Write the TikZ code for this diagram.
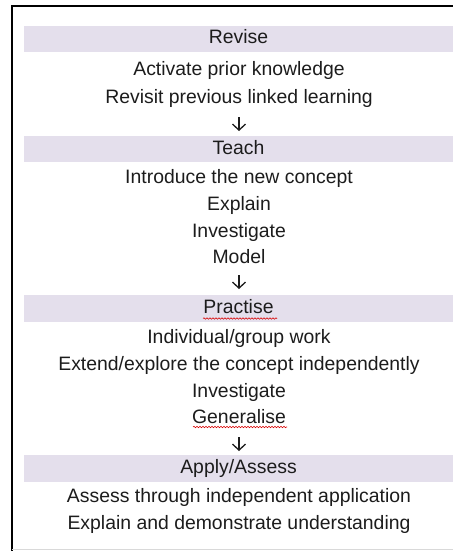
\documentclass[tikz,border=0pt]{standalone}
\usepackage{fontspec}
\setmainfont{Liberation Sans}
\usetikzlibrary{arrows.meta}
\usetikzlibrary{decorations.pathmorphing}
\definecolor{bandfill}{HTML}{E4DFEC}
\definecolor{ink}{HTML}{1C1C1C}

\begin{document}
\begin{tikzpicture}[x=1pt,y=-1pt,
    line/.style={font=\fontsize{19.4}{22}\selectfont,text=ink,inner sep=0pt,text height=14pt,text depth=4pt},
    band/.style={line,fill=bandfill,minimum width=429pt,minimum height=26.5pt},
    down/.style={ink,line width=1.3pt,-{Straight Barb[length=6pt,width=13pt]}},
    squig/.style={red!85!black,line width=0.6pt,decorate,decoration={snake,amplitude=0.7pt,segment length=3pt}}]
    \newcommand{\cx}{239}
    \useasboundingbox (0,0) rectangle (453,551);
    % frame (open on the right)
    \draw[line width=2pt,black] (12,551) -- (12,6.5) -- (453,6.5);
    \draw[black!15,line width=0.8pt] (12,549.5) -- (453,549.5);

    % Revise
    \node[band] (revise) at (238.5,39) {Revise};
    \node[line] (activate) at (\cx,70) {Activate prior knowledge};
    \node[line] (revisit) at (\cx,98) {Revisit previous linked learning};
    \path (\cx,117) coordinate (a1) (\cx,131) coordinate (b1);
    \draw[down] (a1)--(b1);

    % Teach
    \node[band] (teach) at (238.5,149) {Teach};
    \node[line] (introduce) at (\cx,178) {Introduce the new concept};
    \node[line] (explain) at (\cx,205) {Explain};
    \node[line] (investA) at (\cx,232) {Investigate};
    \node[line] (model) at (\cx,258) {Model};
    \path (\cx,275) coordinate (a2) (\cx,289) coordinate (b2);
    \draw[down] (a2)--(b2);

    % Practise
    \node[band] (practise) at (238.5,308.5) {Practise};
    \node[line] (individual) at (\cx,338) {Individual/group work};
    \node[line] (extend) at (\cx,365) {Extend/explore the concept independently};
    \node[line] (investB) at (\cx,392) {Investigate};
    \node[line] (generalise) at (\cx,418) {Generalise};
    \path (\cx,437) coordinate (a3) (\cx,451) coordinate (b3);
    \draw[down] (a3)--(b3);

    % Apply/Assess
    \node[band] (apply) at (238.5,468.5) {Apply/Assess};
    \node[line] (assess) at (\cx,497) {Assess through independent application};
    \node[line] (demo) at (\cx,524) {Explain and demonstrate understanding};

    % spelling marks
    \draw[squig] (203,318.5) -- (277,318.5);
    \draw[squig] (193,427) -- (287,427);
\end{tikzpicture}
\end{document}
